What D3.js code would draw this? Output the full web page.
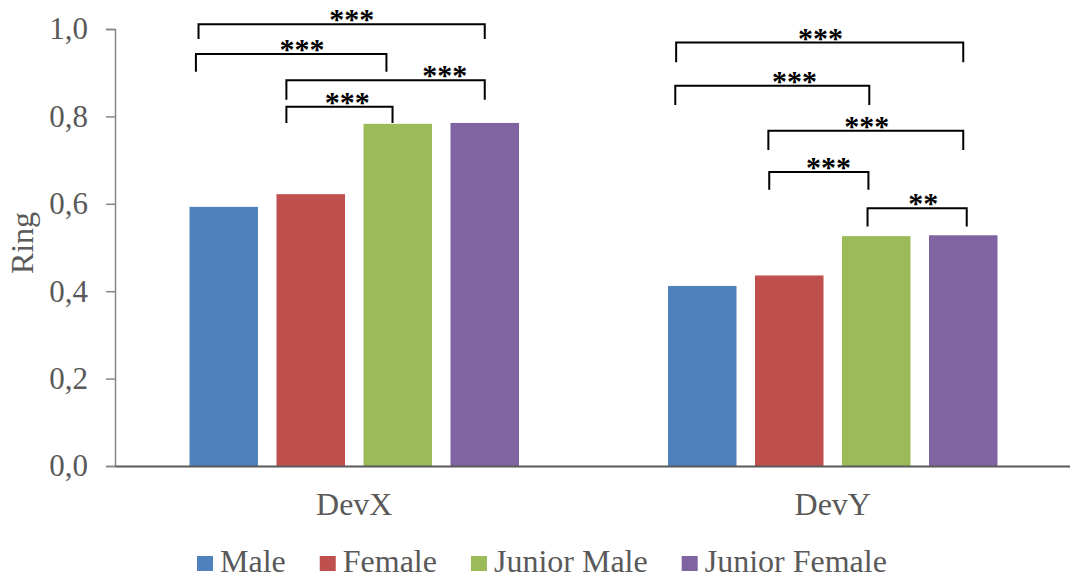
<!DOCTYPE html>
<html>
<head>
<meta charset="utf-8">
<script src="https://cdn.jsdelivr.net/npm/d3@7"></script>
<style>
  body { margin: 0; background: #fff; }
  text { font-family: "Liberation Serif", "Times New Roman", serif; }
</style>
</head>
<body>
<svg id="chart" width="1070" height="581"></svg>
<script>
var categories = ['DevX', 'DevY'];
var series = ['Male', 'Female', 'Junior Male', 'Junior Female'];
var colors = ['#4f81bd', '#c0504d', '#9bbb59', '#8064a2'];
var values = {
  'DevX': [0.593, 0.622, 0.783, 0.785],
  'DevY': [0.412, 0.436, 0.526, 0.528]
};
var yTicks = [0, 0.2, 0.4, 0.6, 0.8, 1.0];

// significance brackets, legs given as (fractional) series index within the group
var brackets = [
  {cat: 'DevX', from: -0.29, to: 3.0, top: 1.011, bottom: 0.977, at: 1.47, label: '***'},
  {cat: 'DevX', from: -0.32, to: 1.87, top: 0.943, bottom: 0.902, at: 0.9, label: '***'},
  {cat: 'DevX', from: 0.72, to: 3.0, top: 0.883, bottom: 0.838, at: 2.54, label: '***'},
  {cat: 'DevX', from: 0.72, to: 1.94, top: 0.822, bottom: 0.785, at: 1.42, label: '***'},
  {cat: 'DevY', from: -0.3, to: 3.0, top: 0.969, bottom: 0.924, at: 1.36, label: '***'},
  {cat: 'DevY', from: -0.31, to: 1.92, top: 0.870, bottom: 0.826, at: 1.06, label: '***'},
  {cat: 'DevY', from: 0.76, to: 3.0, top: 0.767, bottom: 0.723, at: 1.89, label: '***'},
  {cat: 'DevY', from: 0.77, to: 1.91, top: 0.673, bottom: 0.632, at: 1.45, label: '***'},
  {cat: 'DevY', from: 1.9, to: 3.04, top: 0.590, bottom: 0.548, at: 2.54, label: '**'}
];

var svg = d3.select('#chart');
var plotLeft = 115, plotRight = 1072, plotTop = 29, plotBottom = 466;
var groupWidth = 329.5;

var x0 = d3.scaleBand().domain(categories).range([plotLeft, plotRight]);
var x1 = d3.scaleBand().domain(series).range([0, groupWidth]).paddingInner(0.2126);
var y = d3.scaleLinear().domain([0, 1]).range([plotBottom, plotTop]);

function groupStart(cat) {
  return x0(cat) + x0.bandwidth() / 2 - groupWidth / 2;
}
function legX(cat, idx) {
  return groupStart(cat) + idx * x1.step() + x1.bandwidth() / 2;
}

// bars
var groups = svg.selectAll('g.group')
  .data(categories)
  .enter().append('g')
  .attr('class', 'group')
  .attr('transform', function(d) { return 'translate(' + groupStart(d) + ',0)'; });

groups.selectAll('rect')
  .data(function(c) { return values[c].map(function(v, i) { return {s: series[i], v: v, i: i}; }); })
  .enter().append('rect')
  .attr('x', function(d) { return x1(d.s); })
  .attr('y', function(d) { return y(d.v); })
  .attr('width', x1.bandwidth())
  .attr('height', function(d) { return plotBottom - y(d.v); })
  .attr('fill', function(d) { return colors[d.i]; });

// y axis
var yAxis = svg.append('g')
  .attr('transform', 'translate(' + plotLeft + ',0)')
  .call(d3.axisLeft(y).tickValues(yTicks).tickSize(9).tickPadding(18)
    .tickFormat(function(d) { return d3.format('.1f')(d).replace('.', ','); }));
yAxis.select('.domain').attr('stroke', '#868686').attr('stroke-width', 1.5);
yAxis.selectAll('.tick line').attr('stroke', '#868686').attr('stroke-width', 1.5);
yAxis.selectAll('.tick text')
  .attr('fill', '#595959')
  .style('font-size', '31px')
  .style('font-family', '"Liberation Serif", serif');

// x axis
var xAxis = svg.append('g')
  .attr('transform', 'translate(0,' + plotBottom + ')')
  .call(d3.axisBottom(x0).tickSize(0).tickPadding(26));
xAxis.select('.domain').attr('stroke', '#595959').attr('stroke-width', 2);
xAxis.selectAll('.tick text')
  .attr('fill', '#595959')
  .style('font-size', '32px')
  .style('font-family', '"Liberation Serif", serif');

// y label
svg.append('text')
  .attr('transform', 'translate(33,243) rotate(-90)')
  .attr('text-anchor', 'middle')
  .attr('fill', '#595959')
  .style('font-size', '32px')
  .text('Ring');

// brackets
var br = svg.append('g').attr('class', 'brackets');
brackets.forEach(function(b) {
  var xa = legX(b.cat, b.from), xb = legX(b.cat, b.to);
  var yt = y(b.top), yb = y(b.bottom);
  br.append('path')
    .attr('d', 'M' + xa + ',' + yb + 'V' + yt + 'H' + xb + 'V' + yb)
    .attr('fill', 'none')
    .attr('stroke', '#000')
    .attr('stroke-width', 2);
  br.append('text')
    .attr('x', legX(b.cat, b.at))
    .attr('y', yt + 5)
    .attr('text-anchor', 'middle')
    .attr('fill', '#000')
    .style('font-size', '30px')
    .style('font-weight', 'bold')
    .text(b.label);
});

// legend
var legend = svg.append('g').attr('class', 'legend');
var lx = 197;
series.forEach(function(s, i) {
  legend.append('rect')
    .attr('x', lx).attr('y', 556)
    .attr('width', 16).attr('height', 15)
    .attr('fill', colors[i]);
  var t = legend.append('text')
    .attr('x', lx + 23).attr('y', 572)
    .attr('fill', '#595959')
    .style('font-size', '32px')
    .text(s);
  lx += 23 + t.node().getComputedTextLength() + 34;
});
</script>
</body>
</html>
